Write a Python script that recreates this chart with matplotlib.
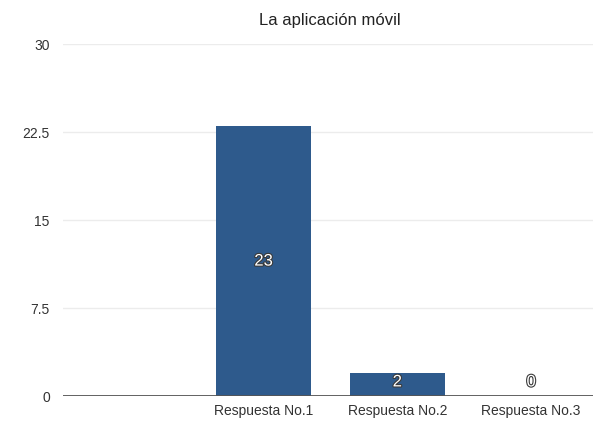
import matplotlib
matplotlib.use("Agg")
import matplotlib.pyplot as plt
import matplotlib.patheffects as pe

# Survey answers for the mobile application question
categories = ["", "Respuesta No.1", "Respuesta No.2", "Respuesta No.3"]
values = [None, 23, 2, 0]
y_ticks = [0, 7.5, 15, 22.5, 30]
y_tick_labels = ["0", "7.5", "15", "22.5", "30"]
title = "La aplicación móvil"

plt.rcParams["font.family"] = ["Liberation Sans", "DejaVu Sans"]

W, H = 593, 422
fig = plt.figure(figsize=(W / 100, H / 100), dpi=100)
fig.patch.set_facecolor("white")
left, right, bottom, top = 63, 598, 396, 44
ax = fig.add_axes([left / W, (H - bottom) / H, (right - left) / W, (bottom - top) / H])

bar_color = "#2e5a8c"
positions = list(range(len(categories)))
for x, v in zip(positions, values):
    if v is None:
        continue
    ax.bar(x, v, width=0.71, color=bar_color, zorder=3)
    ypos = max(v / 2, 1.2)
    ax.text(x, ypos, f"{v}", ha="center", va="center", color="white",
            fontsize=12, zorder=4,
            path_effects=[pe.withStroke(linewidth=1.6, foreground="#3a3a3a")])

ax.set_xlim(-0.5, len(categories) - 0.5)
ax.set_ylim(0, 30)
ax.set_yticks(y_ticks)
ax.set_yticklabels(y_tick_labels)
ax.set_xticks(positions[1:])
ax.set_xticklabels(categories[1:])

for yv in y_ticks[1:]:
    ax.axhline(yv, color="#ececec", linewidth=1.0, zorder=1)
ax.axhline(0, color="#555555", linewidth=1.3, zorder=5)

for s in ax.spines.values():
    s.set_visible(False)
ax.tick_params(axis="both", length=0, labelsize=10, colors="#333333")
ax.tick_params(axis="y", pad=9.5)
ax.tick_params(axis="x", pad=6)

fig.text(330 / W, 1 - 20 / H, title, ha="center", va="center",
         fontsize=12, color="#222222")

fig.savefig("out.png", dpi=100, facecolor="white")
